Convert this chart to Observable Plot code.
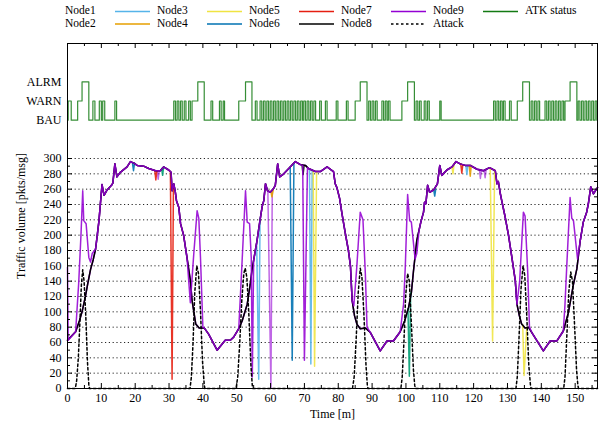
<!DOCTYPE html>
<html><head><meta charset="utf-8">
<script src="https://cdn.jsdelivr.net/npm/d3@7"></script>
<script src="https://cdn.jsdelivr.net/npm/@observablehq/plot@0.6"></script>
<style>
body{margin:0;background:#fff;font-family:"Liberation Serif",serif;}
#wrap{position:relative;width:606px;height:433px;overflow:hidden;}
#legend{position:absolute;left:0;top:0;}
</style></head><body><div id="wrap"><div id="chart"></div></div>
<script>
// ---------- data ----------
const xTickValues = [0,10,20,30,40,50,60,70,80,90,100,110,120,130,140,150];
const yTickValues = [0,20,40,60,80,100,120,140,160,180,200,220,240,260,280,300];
const statusLevels = ["BAU","WARN","ALRM"];
const statusLevelY = [350,375,400];

// Node8 (baseline traffic) vertices [time, pkts/msg]
const baseTraffic = [[0,63],[2.4,74],[3.5,88],[4.3,100],[5.2,118],[6.0,137],[6.8,155],[7.6,168],[8.3,182],[8.8,200],[9.3,219],[9.7,240],[10.2,266],[10.8,252],[11.7,259],[13.0,265],[13.4,268],[14.0,293],[14.6,276],[15.6,282],[17.6,289],[18.6,296],[19.6,294],[20.6,291],[22.5,290],[24.0,287],[26.0,284],[27.4,284],[28.4,289],[29.9,285],[30.6,282],[30.9,258],[31.4,267],[31.8,258],[32.2,245],[32.9,236],[33.4,215],[34.3,200],[35.3,171],[36.3,141],[36.8,115],[37.9,84],[38.9,79],[40.4,79],[41.7,71],[44.2,50],[46.6,63],[48.1,63],[49.1,67],[50.6,78],[51.6,88],[53.1,110],[54.0,136],[54.5,154],[55.0,167],[56.0,193],[56.8,217],[57.5,237],[58.0,245],[58.5,267],[59.1,258],[59.9,256],[60.9,261],[61.4,265],[62.1,293],[62.7,276],[63.9,280],[65.8,289],[67.3,296],[68.8,292],[70.3,291],[71.2,287],[73.2,283],[74.7,283],[76.7,289],[78.6,283],[79.1,267],[79.6,262],[80.4,248],[81.1,228],[82.1,202],[83.0,180],[83.6,160],[84.1,115],[84.8,95],[85.5,84],[86.5,78],[88.0,79],[89.5,73],[92.4,49],[94.4,62],[96.3,62],[98.3,74],[99.6,88],[100.8,106],[101.6,125],[102.2,152],[103.2,193],[104.4,217],[105.2,230],[105.5,243],[105.9,241],[106.4,265],[107.0,256],[108.2,259],[109.3,267],[110.0,291],[110.6,278],[112.1,285],[113.6,289],[114.8,296],[116.0,293],[117.5,291],[119.0,291],[121.0,286],[122.9,284],[124.7,288],[126.4,284],[126.9,267],[127.3,270],[127.8,256],[128.3,245],[129.3,224],[130.3,200],[131.3,171],[132.3,141],[132.8,110],[133.5,95],[134.2,84],[135.2,79],[136.2,80],[137.2,73],[140.6,49],[142.6,62],[144.6,62],[146.5,75],[148.0,99],[149.5,136],[150.5,156],[151.5,193],[152.4,217],[153.4,230],[153.9,241],[154.6,263],[155.4,254],[156.6,262]];

// Node9 departures from the baseline
const node9Spikes = [
 [[0,158],[0.2,63],[2.4,74],[3.3,137],[4.0,202],[4.5,258],[4.8,219],[5.5,215],[6.3,171],[6.8,165],[7.3,176],[8.3,182]],
 [[35.3,171],[36.3,112],[37.3,175],[38.3,232],[38.8,222],[39.3,170],[40.0,80],[40.4,79]],
 [[50.6,78],[51.6,167],[52.6,258],[53.1,217],[53.8,215],[54.3,170],[54.6,15],[55.0,167]],
 [[69.5,291],[70.0,37],[70.9,288]],
 [[84.1,115],[84.6,108],[85.5,160],[86.5,230],[87.3,220],[88.0,150],[88.5,80],[89.5,73]],
 [[98.3,74],[99.3,110],[99.8,158],[100.5,253],[101.1,219],[101.6,217],[102.7,169],[103.2,176],[103.9,207]],
 [[132.8,110],[133.6,140],[134.7,230],[135.2,225],[136.0,150],[136.5,80],[137.2,73]],
 [[146.5,75],[147.0,110],[147.5,158],[148.5,249],[149.0,222],[149.5,219],[150.7,169],[151.5,193]]
];
// other nodes: short departures (dips/drops) from the baseline
const node1Drops = [[[59.2,258],[60.1,0],[60.5,257]],[[26.5,284],[26.8,273],[27.1,284]],[[121.7,286],[122.0,274],[122.3,285]],[[123.1,284],[123.4,275],[123.7,286]]];
const node2Drops = [[[100.6,104],[101.0,16],[101.4,125]],[[27.8,287],[28.1,278],[28.4,289]]];
const node3Drops = [[[55.9,190],[56.5,12],[56.9,222]],[[71.5,286],[71.9,32],[72.3,285]],[[117.7,291],[118.0,279],[118.3,291]]];
const node4Drops = [[[60.1,257],[60.4,250],[60.8,259]],[[118.7,291],[119.0,277],[119.3,291]]];
const node5Drops = [[[72.6,284],[73.0,29],[73.6,283]],[[124.9,288],[125.6,62],[126.2,285]],[[134.5,83],[134.9,17],[135.7,80]],[[113.6,289],[113.9,280],[114.2,293]]];
const node6Drops = [[[65.8,289],[66.4,37],[66.9,294]],[[19.2,294],[19.5,284],[19.8,294]],[[108.2,259],[108.5,251],[108.8,260]]];
const node7Drops = [[[30.4,283],[30.9,12],[31.3,266]],[[25.8,284],[26.1,272],[26.4,284]],[[116.2,293],[116.5,281],[116.8,292]]];
const node8Dips  = [[[69.3,292],[69.6,279],[69.9,291]]];

// Attack profile
const attack = [[0,0],[2.3,0],[2.7,10],[3.2,40],[3.7,90],[4.1,135],[4.5,155],[4.9,140],[5.4,95],[5.9,35],[6.3,5],[6.5,0],
 [36.2,0],[36.6,15],[37.1,60],[37.6,125],[38.2,160],[38.7,150],[39.3,100],[39.9,35],[40.4,5],[40.6,0],
 [49.8,0],[50.3,15],[50.9,60],[51.5,115],[52.1,150],[52.5,157],[53.0,145],[53.6,95],[54.2,30],[54.6,4],[54.8,0],
 [84.2,0],[84.7,15],[85.3,65],[85.9,125],[86.5,157],[87.0,145],[87.6,95],[88.2,30],[88.6,4],[88.8,0],
 [98.5,0],[98.9,15],[99.4,60],[99.9,120],[100.5,150],[101.0,140],[101.6,85],[102.2,25],[102.6,4],[102.8,0],
 [132.5,0],[132.9,15],[133.4,65],[134.0,130],[134.6,160],[135.1,148],[135.7,95],[136.3,30],[136.8,4],[137.0,0],
 [146.6,0],[147.0,15],[147.5,65],[148.1,125],[148.7,152],[149.2,140],[149.8,85],[150.4,25],[150.8,4],[151.0,0],[156.6,0]];

// ATK status changes [time, level]
const statusChanges = [[0,"BAU"],[0.2,"WARN"],[1.1,"BAU"],[3.0,"WARN"],[4.3,"ALRM"],[6.3,"BAU"],
 [7.5,"WARN"],[8.1,"BAU"],[9.4,"WARN"],[10.0,"BAU"],[10.4,"WARN"],[11.0,"BAU"],[14.0,"WARN"],[14.5,"BAU"],
 [31.4,"WARN"],[31.9,"BAU"],[32.4,"WARN"],[32.9,"BAU"],[33.4,"WARN"],[33.9,"BAU"],[34.5,"WARN"],[35.0,"BAU"],[35.8,"WARN"],[36.3,"BAU"],
 [36.8,"WARN"],[38.5,"ALRM"],[40.4,"BAU"],
 [42.4,"WARN"],[42.9,"BAU"],[44.9,"WARN"],[45.4,"BAU"],[46.0,"WARN"],[46.4,"BAU"],
 [50.6,"WARN"],[52.6,"ALRM"],[54.5,"BAU"],
 [55.5,"WARN"],[56.0,"BAU"],[56.9,"WARN"],[57.4,"BAU"],[57.9,"WARN"],[58.4,"BAU"],[58.9,"WARN"],[59.4,"BAU"],[59.9,"WARN"],[60.4,"BAU"],
 [60.9,"WARN"],[61.4,"BAU"],[61.9,"WARN"],[62.4,"BAU"],[62.9,"WARN"],[63.4,"BAU"],[63.9,"WARN"],[64.4,"BAU"],[64.9,"WARN"],[65.4,"BAU"],
 [65.9,"WARN"],[66.4,"BAU"],[66.9,"WARN"],[67.4,"BAU"],[67.9,"WARN"],[68.4,"BAU"],[68.9,"WARN"],[69.4,"BAU"],[69.8,"WARN"],[70.3,"BAU"],
 [70.8,"WARN"],[71.3,"BAU"],[71.8,"WARN"],[72.3,"BAU"],[72.8,"WARN"],[73.3,"BAU"],
 [74.5,"WARN"],[75.0,"BAU"],[76.2,"WARN"],[76.7,"BAU"],[79.4,"WARN"],[79.9,"BAU"],[82.4,"WARN"],[82.9,"BAU"],
 [85.0,"WARN"],[86.5,"ALRM"],[88.5,"BAU"],
 [89.0,"WARN"],[89.5,"BAU"],[90.0,"WARN"],[90.5,"BAU"],[91.0,"WARN"],[91.5,"BAU"],[92.9,"WARN"],[93.4,"BAU"],[93.9,"WARN"],[94.4,"BAU"],[94.8,"WARN"],[95.3,"BAU"],
 [98.8,"WARN"],[100.5,"ALRM"],[102.5,"BAU"],
 [103.0,"WARN"],[103.5,"BAU"],[104.0,"WARN"],[104.5,"BAU"],[105.4,"WARN"],[105.9,"BAU"],[106.4,"WARN"],[106.9,"BAU"],[110.0,"WARN"],[110.4,"BAU"],
 [125.9,"WARN"],[126.4,"BAU"],[126.9,"WARN"],[127.4,"BAU"],[127.9,"WARN"],[128.4,"BAU"],[128.8,"WARN"],[129.3,"BAU"],[130.6,"WARN"],[131.1,"BAU"],
 [132.9,"WARN"],[134.5,"ALRM"],[136.5,"BAU"],
 [137.0,"WARN"],[137.5,"BAU"],[138.0,"WARN"],[138.5,"BAU"],[139.0,"WARN"],[139.5,"BAU"],
 [141.1,"WARN"],[141.6,"BAU"],[142.1,"WARN"],[142.6,"BAU"],[143.1,"WARN"],[143.6,"BAU"],[144.1,"WARN"],[144.6,"BAU"],[145.1,"WARN"],[145.6,"BAU"],[146.1,"WARN"],[146.6,"BAU"],
 [147.0,"WARN"],[148.5,"ALRM"],[150.5,"BAU"],
 [150.9,"WARN"],[151.4,"BAU"],[151.9,"WARN"],[152.4,"BAU"],[152.9,"WARN"],[153.4,"BAU"],[153.9,"WARN"],[154.4,"BAU"],[154.9,"WARN"],[155.4,"BAU"],[155.9,"WARN"],[156.4,"BAU"]];

const nodeColors = {Node1:"#9400d3",Node2:"#009e73",Node3:"#56b4e9",Node4:"#e69f00",Node5:"#f0e442",Node6:"#0072b2",Node7:"#e51e10",Node8:"#000000",Node9:"#9400d3"};
const statusColor = "#137a13";
const legendRow1 = ["Node1","Node3","Node5","Node7","Node9","ATK status"];
const legendRow2 = ["Node2","Node4","Node6","Node8","Attack"];

// ---------- build ----------
const X_END = 156.6;
const toPts = arr => arr.map(([t,v]) => ({t, v}));
const segs = list => list.flatMap((s,i) => s.map(([t,v]) => ({t, v, id:i})));
function withSpikes(base, spikes){
  let pts = toPts(base);
  for (const s of spikes){
    const t0 = s[0][0], t1 = s[s.length-1][0];
    pts = pts.filter(p => p.t < t0 || p.t > t1);
    pts.push(...toPts(s));
  }
  return pts.sort((a,b) => a.t - b.t);
}
const node9 = withSpikes(baseTraffic, node9Spikes);
const statusPts = statusChanges.map(([t,l]) => ({t, v: statusLevelY[statusLevels.indexOf(l)]}));
statusPts.push({t: X_END, v: statusPts[statusPts.length-1].v});

const lw = 1.5;
const dev = (list, color, op=0.9) => Plot.line(segs(list), {x:"t", y:"v", z:"id", stroke: color, strokeWidth: lw, strokeOpacity: op});

const yMinor = yTickValues.slice(1).map(v => v - 10);
const xMinor = xTickValues.map(v => v + 5).filter(v => v < X_END);
const frameW = 530, frameH = 345;

const labelMap = new Map(statusLevelY.map((y,i) => [y, statusLevels[i]]));

const chart = Plot.plot({
  width: 606, height: 433,
  marginLeft: 67, marginRight: 9, marginTop: 43, marginBottom: 45,
  style: {fontFamily: '"Liberation Serif", serif', fontSize: "12px", background: "white", color: "black"},
  x: {domain: [0, X_END]},
  y: {domain: [0, 450]},
  marks: [
    Plot.ruleY(yTickValues.slice(1), {stroke: "black", strokeDasharray: "1.2,2.6", strokeWidth: 1, strokeOpacity: 0.85}),
    Plot.line(toPts(baseTraffic), {x:"t", y:"v", stroke: nodeColors.Node1, strokeWidth: lw}),
    dev(node1Drops, nodeColors.Node1, 0.6),
    dev(node2Drops, nodeColors.Node2),
    dev(node3Drops, nodeColors.Node3),
    dev(node4Drops, nodeColors.Node4),
    dev(node5Drops, nodeColors.Node5),
    dev(node6Drops, nodeColors.Node6),
    dev(node7Drops, nodeColors.Node7),
    Plot.line(toPts(baseTraffic), {x:"t", y:"v", stroke: nodeColors.Node8, strokeWidth: lw}),
    dev(node8Dips, nodeColors.Node8),
    Plot.line(node9, {x:"t", y:"v", stroke: nodeColors.Node9, strokeWidth: lw, strokeOpacity: 0.88}),
    Plot.line(toPts(attack), {x:"t", y:"v", stroke: "black", strokeWidth: 1.5, strokeDasharray: "2.5,2.5"}),
    Plot.line(statusPts, {x:"t", y:"v", curve: "step-after", stroke: statusColor, strokeWidth: 1.2, strokeOpacity: 0.85}),
    Plot.frame({stroke: "black", strokeWidth: 1}),
    Plot.tickY(yTickValues, {y: d => d, insetRight: frameW - 5, stroke: "black"}),
    Plot.tickY(yTickValues, {y: d => d, insetLeft: frameW - 5, stroke: "black"}),
    Plot.tickY(yMinor, {y: d => d, insetRight: frameW - 3, stroke: "black"}),
    Plot.tickY(yMinor, {y: d => d, insetLeft: frameW - 3, stroke: "black"}),
    Plot.tickX(xTickValues, {x: d => d, insetTop: frameH - 5, stroke: "black"}),
    Plot.tickX(xTickValues, {x: d => d, insetBottom: frameH - 5, stroke: "black"}),
    Plot.tickX(xMinor, {x: d => d, insetTop: frameH - 3, stroke: "black"}),
    Plot.tickX(xMinor, {x: d => d, insetBottom: frameH - 3, stroke: "black"}),
    Plot.axisX({ticks: xTickValues, tickSize: 0, tickPadding: 5, label: null}),
    Plot.axisY({ticks: [...yTickValues, ...statusLevelY], tickSize: 0, tickPadding: 6, label: null,
      tickFormat: d => labelMap.has(d) ? labelMap.get(d) : String(d)}),
    Plot.text(["Time [m]"], {frameAnchor: "bottom", dy: 29, fontSize: 12}),
    Plot.text(["Traffic volume [pkts/msg]"], {frameAnchor: "left", textAnchor: "middle", rotate: -90, dx: -46, fontSize: 12})
  ]
});
document.getElementById("chart").appendChild(chart);

// ---------- legend (above the plot area) ----------
const ns = "http://www.w3.org/2000/svg";
const leg = document.createElementNS(ns, "svg");
leg.setAttribute("id","legend"); leg.setAttribute("width","606"); leg.setAttribute("height","34");
function addRow(names, y){
  names.forEach((name, k) => {
    const color = name === "ATK status" ? statusColor : name === "Attack" ? "black" : nodeColors[name];
    if (k > 0){
      const ln = document.createElementNS(ns, "line");
      ln.setAttribute("x1", 23 + 92*k); ln.setAttribute("x2", 58 + 92*k);
      ln.setAttribute("y1", y); ln.setAttribute("y2", y);
      ln.setAttribute("stroke", color); ln.setAttribute("stroke-width", "1.5");
      if (name === "Attack") ln.setAttribute("stroke-dasharray", "2.5,2.5");
      leg.appendChild(ln);
    }
    const tx = document.createElementNS(ns, "text");
    tx.setAttribute("x", 65 + 92*k); tx.setAttribute("y", y);
    tx.setAttribute("dominant-baseline", "middle");
    tx.setAttribute("font-family", '"Liberation Serif", serif');
    tx.setAttribute("font-size", "11.5");
    tx.textContent = name;
    leg.appendChild(tx);
  });
}
addRow(legendRow1, 11.5);
addRow(legendRow2, 24);
document.getElementById("wrap").appendChild(leg);
</script></body></html>
